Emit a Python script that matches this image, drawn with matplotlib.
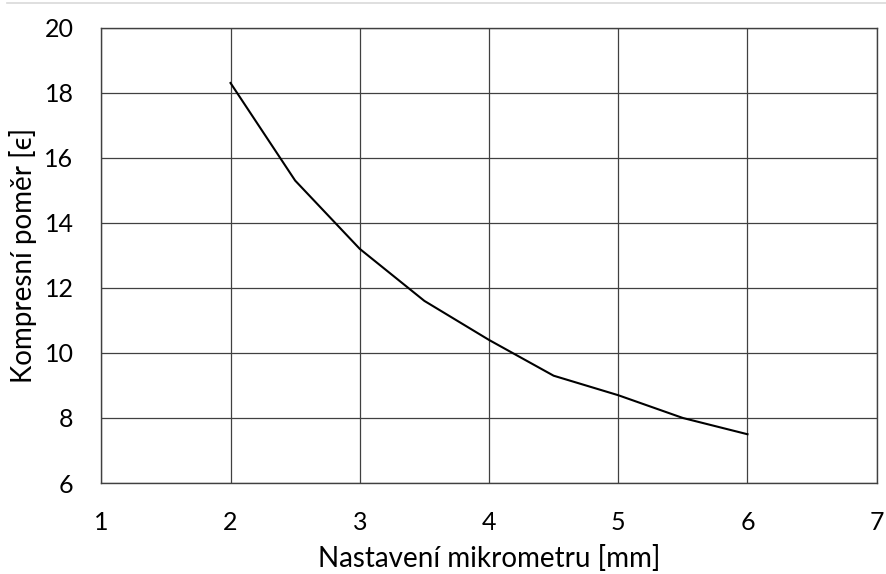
import matplotlib
matplotlib.use("Agg")
import matplotlib.pyplot as plt
from matplotlib.lines import Line2D

# Micrometer setting [mm] vs. compression ratio
micrometer_mm = [2.0, 2.5, 3.0, 3.5, 4.0, 4.5, 5.0, 5.5, 6.0]
compression_ratio = [18.3, 15.3, 13.2, 11.6, 10.4, 9.3, 8.7, 8.0, 7.5]

x_ticks = [1, 2, 3, 4, 5, 6, 7]
y_ticks = [6, 8, 10, 12, 14, 16, 18, 20]

plt.rcParams['font.family'] = ['Lato', 'DejaVu Sans']

fig = plt.figure(figsize=(8.87, 5.74), dpi=100)
ax = fig.add_axes([0.1142, 0.1585, 0.8742, 0.7932])

ax.plot(micrometer_mm, compression_ratio, color='black', linewidth=1.5)

ax.set_xlim(x_ticks[0], x_ticks[-1])
ax.set_ylim(y_ticks[0], y_ticks[-1])
ax.set_xticks(x_ticks)
ax.set_yticks(y_ticks)
ax.grid(True, color='#404040', linewidth=0.9)
ax.set_axisbelow(True)
for s in ax.spines.values():
    s.set_color('#404040')
    s.set_linewidth(1.0)
ax.tick_params(length=0, labelsize=18, colors='black')
ax.tick_params(axis='y', pad=20)
ax.tick_params(axis='x', pad=20)

ax.set_xlabel('Nastavení mikrometru [mm]', fontsize=20, labelpad=8)
ax.set_ylabel('Kompresní poměr [ϵ]', fontsize=20, labelpad=5)

# thin separator along the top edge
fig.add_artist(Line2D([0.008, 1.0], [0.9948, 0.9948], color='#d9d9d9',
                      linewidth=1.2, transform=fig.transFigure))

fig.savefig('out.png', dpi=100, facecolor='white')
